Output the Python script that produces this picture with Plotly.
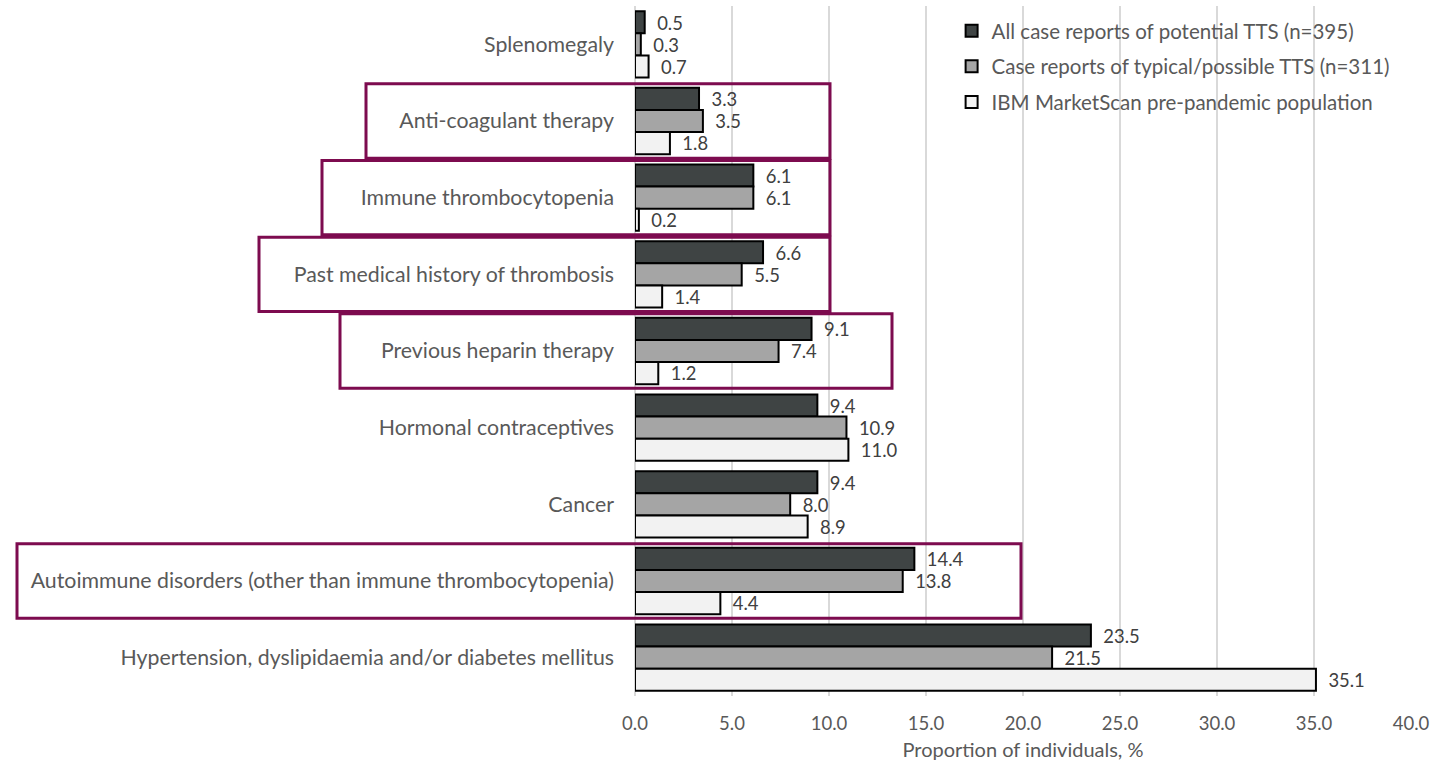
import plotly.graph_objects as go

# Risk factors, listed top to bottom
categories = [
    "Splenomegaly",
    "Anti-coagulant therapy",
    "Immune thrombocytopenia",
    "Past medical history of thrombosis",
    "Previous heparin therapy",
    "Hormonal contraceptives",
    "Cancer",
    "Autoimmune disorders (other than immune thrombocytopenia)",
    "Hypertension, dyslipidaemia and/or diabetes mellitus",
]

series_names = [
    "All case reports of potential TTS (n=395)",
    "Case reports of typical/possible TTS (n=311)",
    "IBM MarketScan pre-pandemic population",
]

all_tts = [0.5, 3.3, 6.1, 6.6, 9.1, 9.4, 9.4, 14.4, 23.5]
typical_tts = [0.3, 3.5, 6.1, 5.5, 7.4, 10.9, 8.0, 13.8, 21.5]
marketscan = [0.7, 1.8, 0.2, 1.4, 1.2, 11.0, 8.9, 4.4, 35.1]

x_ticks = [0, 5, 10, 15, 20, 25, 30, 35, 40]

# Categories outlined with a highlight frame
highlighted = [
    "Anti-coagulant therapy",
    "Immune thrombocytopenia",
    "Past medical history of thrombosis",
    "Previous heparin therapy",
    "Autoimmune disorders (other than immune thrombocytopenia)",
]

FONT = "Lato, Carlito, Calibri, sans-serif"
fills = ["#3f4444", "#a5a5a5", "#f2f2f2"]

fig = go.Figure()
for name, vals, fill in zip(series_names, [all_tts, typical_tts, marketscan], fills):
    fig.add_trace(go.Bar(
        y=categories,
        x=vals,
        name=name,
        orientation="h",
        marker=dict(color=fill, line=dict(color="#000000", width=2)),
        text=[f"  {v:.1f}" for v in vals],
        textposition="outside",
        textfont=dict(family=FONT, size=20, color="#404040"),
        cliponaxis=False,
        legendgroup=name,
        hoverinfo="skip",
    ))

# Frame extents in pixels from the axis origin (left, right)
frame_px = {
    "Anti-coagulant therapy": (-269, 195),
    "Immune thrombocytopenia": (-313, 195),
    "Past medical history of thrombosis": (-376, 195),
    "Previous heparin therapy": (-295, 257),
    "Autoimmune disorders (other than immune thrombocytopenia)": (-618, 386),
}
shapes = []
for cat in highlighted:
    i = categories.index(cat)
    x0, x1 = frame_px[cat]
    shapes.append(dict(
        type="rect", xref="paper", yref="y",
        xsizemode="pixel", xanchor=0, x0=x0, x1=x1,
        y0=i - 0.485, y1=i + 0.485,
        line=dict(color="#7d0b4f", width=3),
        fillcolor="rgba(0,0,0,0)",
        layer="above",
    ))

fig.update_layout(
    width=1439, height=761,
    margin=dict(l=635, r=28, t=6, b=65, autoexpand=False),
    paper_bgcolor="white", plot_bgcolor="white",
    barmode="group", bargap=0.135, bargroupgap=0,
    font=dict(family=FONT, size=19, color="#595959"),
    shapes=shapes,
    legend=dict(
        x=0.408, y=0.993, xanchor="left", yanchor="top",
        bgcolor="rgba(0,0,0,0)", borderwidth=0,
        font=dict(family=FONT, size=20.5, color="#595959"),
        tracegroupgap=6,
        traceorder="grouped",
    ),
    xaxis=dict(
        range=[0, 40], tickvals=x_ticks,
        ticktext=[f"{t:.1f}" for t in x_ticks],
        showgrid=True, gridcolor="#d9d9d9", gridwidth=1.5,
        zeroline=True, zerolinecolor="#d9d9d9", zerolinewidth=1.5,
        showline=False, ticks="", automargin=False,
        tickfont=dict(family=FONT, size=18.5, color="#595959"),
        ticklabelstandoff=14,
        title=dict(text="Proportion of individuals, %", standoff=12,
                   font=dict(family=FONT, size=20, color="#595959")),
    ),
    yaxis=dict(
        autorange="reversed", showgrid=False, showline=False, ticks="",
        automargin=False,
        tickfont=dict(family=FONT, size=21.3, color="#595959"),
        ticklabelstandoff=20,
    ),
)

fig.write_html("out.html")
